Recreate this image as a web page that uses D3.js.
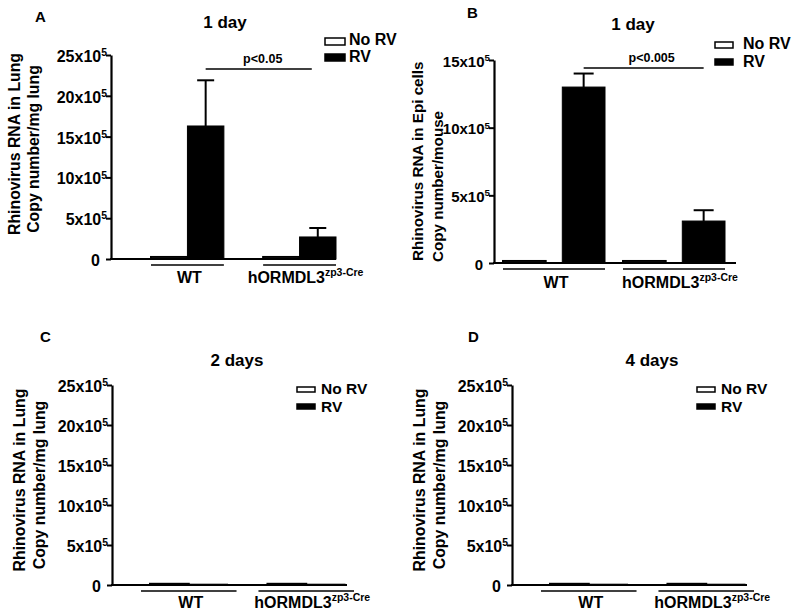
<!DOCTYPE html>
<html><head><meta charset="utf-8">
<script src="https://cdn.jsdelivr.net/npm/d3@7"></script>
<style>
body{margin:0;background:#fff}
text{font-family:"Liberation Sans",Arial,sans-serif;font-weight:bold;fill:#000}
</style>
</head><body><svg id="c" width="800" height="615"></svg>
<script>
// ---- data (values in units of 10^5 copies) ----
const groups = ["WT", "hORMDL3"];
const groupSup = ["", "zp3-Cre"];
const seriesNames = ["No RV", "RV"];
const ticksLung = [0, 5, 10, 15, 20, 25];
const ticksEpi = [0, 5, 10, 15];
const tickExponent = "5";

const aNoRV = [0.25, 0.25];
const aRV = [16.3, 2.7];
const aRVErr = [5.6, 1.1];

const bNoRV = [0.15, 0.15];
const bRV = [13.0, 3.1];
const bRVErr = [1.0, 0.8];

const cNoRV = [0.15, 0.15];
const cRV = [0.1, 0.1];

const dNoRV = [0.15, 0.15];
const dRV = [0.1, 0.1];

const sigTextA = "p<0.05";
const sigTextB = "p<0.005";

// ---- layout ----
const svg = d3.select("#c");

const panels = [
  {letter:"A", lx:35, ly:22, title:"1 day", tx:225, ty:28,
   axisX:111, yTop:55, yBot:259, ymax:25, ticks:ticksLung, tickFs:16, xEnd:336,
   band:[151,336], padInner:0.35, innerPad:0, ulExt:0, ulY:265, labelY:283,
   yt:[{t:"Rhinovirus RNA in Lung", x:20, y:144, a:"middle"},
       {t:"Copy number/mg lung", x:39, y:149, a:"middle"}], ytFs:15.8,
   noRV:aNoRV, rv:aRV, err:aRVErr, capW:17,
   leg:{x:325, y:[38,54], w:20, h:7, tx:349, tb:[45,62], fs:16},
   sig:{y:69, text:sigTextA, ty:63, dx:4, trim:6}},
  {letter:"B", lx:467, ly:18, title:"1 day", tx:633, ty:30,
   axisX:494, yTop:60, yBot:263, ymax:15, ticks:ticksEpi, tickFs:15, xEnd:736,
   band:[503,725], padInner:0.15, innerPad:0.28, ulExt:0, ulY:269, labelY:288,
   yt:[{t:"Rhinovirus RNA in Epi cells", x:423, y:261, a:"start"},
       {t:"Copy number/mouse", x:443, y:262, a:"start"}], ytFs:15.2,
   noRV:bNoRV, rv:bRV, err:bRVErr, capW:20,
   leg:{x:715, y:[42,59], w:18, h:6, tx:743, tb:[49,67], fs:16},
   sig:{y:68, text:sigTextB, ty:62, dx:8, trim:0}},
  {letter:"C", lx:40, ly:342, title:"2 days", tx:237, ty:366,
   axisX:112, yTop:385, yBot:585, ymax:25, ticks:ticksLung, tickFs:16, xEnd:347,
   band:[150,345], padInner:0.34, innerPad:0, ulExt:9, ulY:591, labelY:608,
   yt:[{t:"Rhinovirus RNA in Lung", x:25, y:480, a:"middle"},
       {t:"Copy number/mg lung", x:45, y:485, a:"middle"}], ytFs:15.9,
   noRV:cNoRV, rv:cRV, err:null, capW:0,
   leg:{x:297, y:[387,404], w:18, h:5, tx:321, tb:[394,412], fs:15.5},
   sig:null},
  {letter:"D", lx:468, ly:342, title:"4 days", tx:652, ty:366,
   axisX:512, yTop:385, yBot:585, ymax:25, ticks:ticksLung, tickFs:16, xEnd:747,
   band:[550,745], padInner:0.34, innerPad:0, ulExt:9, ulY:591, labelY:608,
   yt:[{t:"Rhinovirus RNA in Lung", x:425, y:480, a:"middle"},
       {t:"Copy number/mg lung", x:445, y:485, a:"middle"}], ytFs:15.9,
   noRV:dNoRV, rv:dRV, err:null, capW:0,
   leg:{x:697, y:[387,404], w:18, h:5, tx:721, tb:[394,412], fs:15.5},
   sig:null}
];

function drawPanel(p){
  const g = svg.append("g");
  const y = d3.scaleLinear().domain([0, p.ymax]).range([p.yBot, p.yTop]);
  const x0 = d3.scaleBand().domain(groups).range(p.band).paddingInner(p.padInner).paddingOuter(0);
  const x1 = d3.scaleBand().domain(seriesNames).range([0, x0.bandwidth()]).paddingInner(p.innerPad).paddingOuter(0);

  // panel letter and title
  g.append("text").attr("x", p.lx).attr("y", p.ly).attr("font-size", 15).text(p.letter);
  g.append("text").attr("x", p.tx).attr("y", p.ty).attr("text-anchor","middle").attr("font-size", 17).text(p.title);

  // y-axis title
  p.yt.forEach(l=>{
    g.append("text").attr("transform", `translate(${l.x},${l.y}) rotate(-90)`)
      .attr("text-anchor", l.a).attr("font-size", p.ytFs).text(l.t);
  });

  // bars
  const rows = groups.map((gr,i)=>({group:gr, i, vals:[p.noRV[i], p.rv[i]]}));
  rows.forEach(r=>{
    r.vals.forEach((v,k)=>{
      const s = seriesNames[k];
      const bx = x0(r.group) + x1(s);
      g.append("rect").attr("x", bx).attr("y", y(v)).attr("width", x1.bandwidth())
        .attr("height", p.yBot - y(v))
        .attr("fill", k===0 ? "#fff" : "#000").attr("stroke","#000").attr("stroke-width", k===0?2:1);
      if(k===1 && p.err){
        const cx = bx + x1.bandwidth()/2;
        const top = y(v + p.err[r.i]);
        g.append("line").attr("x1",cx).attr("x2",cx).attr("y1",y(v)).attr("y2",top)
          .attr("stroke","#000").attr("stroke-width",2);
        g.append("line").attr("x1",cx-p.capW/2).attr("x2",cx+p.capW/2).attr("y1",top).attr("y2",top)
          .attr("stroke","#000").attr("stroke-width",2);
      }
    });
  });

  // y axis
  const ax = g.append("g").attr("transform", `translate(${p.axisX},0)`)
    .call(d3.axisLeft(y).tickValues(p.ticks).tickSize(5).tickSizeOuter(0).tickPadding(6)
      .tickFormat(d => d === 0 ? "0" : d + "x10"));
  ax.attr("font-family", null);
  ax.select(".domain").attr("stroke","#000").attr("stroke-width",2.2);
  ax.selectAll(".tick line").attr("stroke","#000").attr("stroke-width",2);
  ax.selectAll(".tick text").attr("font-size", p.tickFs).attr("fill","#000")
    .each(function(d){
      const t = d3.select(this);
      t.attr("dy","0.4em");
      if(d !== 0){
        t.attr("x", -4);
        t.append("tspan").attr("dy","-0.55em").attr("font-size", p.tickFs*0.65).text(tickExponent);
      }
    });

  // x baseline
  g.append("line").attr("x1", p.axisX - 1).attr("x2", p.xEnd).attr("y1", p.yBot).attr("y2", p.yBot)
    .attr("stroke","#000").attr("stroke-width",2.2);

  // group underlines and labels
  groups.forEach((gr,i)=>{
    const gx = x0(gr), bw = x0.bandwidth();
    g.append("line").attr("x1", gx - p.ulExt).attr("x2", gx + bw + p.ulExt)
      .attr("y1", p.ulY).attr("y2", p.ulY).attr("stroke","#000").attr("stroke-width",1.6);
    const t = g.append("text").attr("x", gx + bw/2 + (i===1?6:2)).attr("y", p.labelY)
      .attr("text-anchor","middle").attr("font-size",16).text(gr);
    if(groupSup[i]) t.append("tspan").attr("dy",-7).attr("font-size",10.5).text(groupSup[i]);
  });

  // legend
  seriesNames.forEach((s,k)=>{
    g.append("rect").attr("x", p.leg.x).attr("y", p.leg.y[k]).attr("width", p.leg.w).attr("height", p.leg.h)
      .attr("fill", k===0?"#fff":"#000").attr("stroke","#000").attr("stroke-width",1.5);
    g.append("text").attr("x", p.leg.tx).attr("y", p.leg.tb[k]).attr("font-size", p.leg.fs).text(s);
  });

  // significance
  if(p.sig){
    const xa = x0(groups[0]) + x1(seriesNames[1]) + x1.bandwidth()/2;
    const xb = x0(groups[1]) + x1(seriesNames[1]) + x1.bandwidth()/2 - p.sig.trim;
    g.append("line").attr("x1",xa).attr("x2",xb).attr("y1",p.sig.y).attr("y2",p.sig.y)
      .attr("stroke","#000").attr("stroke-width",1.5);
    g.append("text").attr("x",(xa+xb)/2 + p.sig.dx).attr("y",p.sig.ty).attr("text-anchor","middle")
      .attr("font-size",12.5).text(p.sig.text);
  }
}

panels.forEach(drawPanel);
</script>
</body></html>
